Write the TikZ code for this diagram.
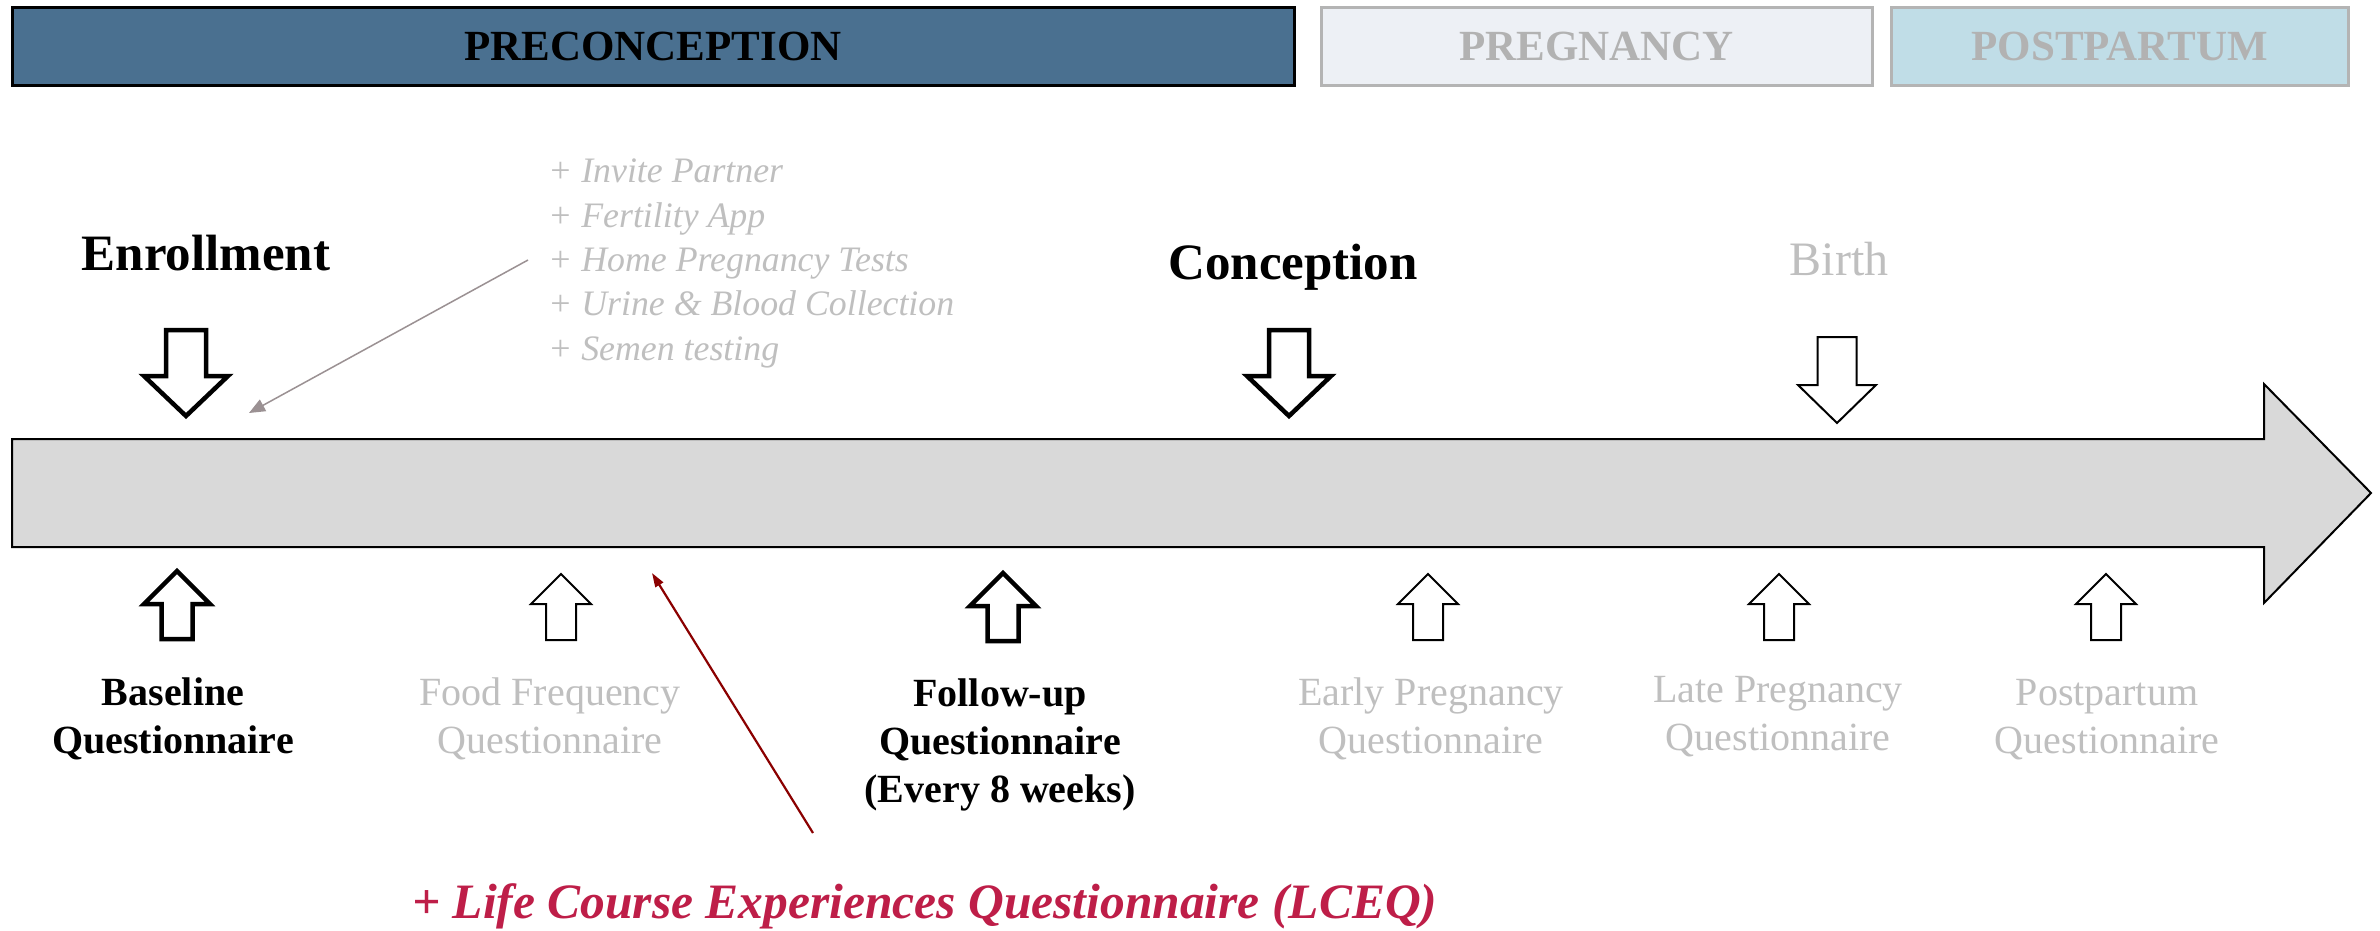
\documentclass[tikz,border=0pt]{standalone}
\usepackage{fontspec}
\setmainfont{Liberation Serif}
\usetikzlibrary{arrows.meta}
\definecolor{precol}{RGB}{74,112,144}
\definecolor{pregcol}{RGB}{237,240,245}
\definecolor{postcol}{RGB}{192,221,231}
\definecolor{boxgray}{RGB}{180,180,180}
\definecolor{softgray}{RGB}{191,191,191}
\definecolor{hdrgray}{RGB}{178,178,178}
\definecolor{bargray}{RGB}{217,217,217}
\definecolor{lceqred}{RGB}{190,30,72}
\definecolor{arrowred}{RGB}{139,0,0}
\definecolor{mauvegray}{RGB}{155,145,147}
\tikzset{
  phasebox/.style={rectangle, inner sep=0pt, line width=3pt, minimum height=78pt,
    font=\fontsize{43}{50}\selectfont\bfseries},
  eventlbl/.style={inner sep=0pt, anchor=base, font=\fontsize{51}{58}\selectfont\bfseries},
  eventsoft/.style={inner sep=0pt, anchor=base, text=softgray, font=\fontsize{48}{56}\selectfont},
  addlist/.style={inner sep=0pt, anchor=base west, align=left, text=softgray,
    font=\fontsize{35.8}{44.3}\selectfont\itshape},
  qbold/.style={inner sep=0pt, anchor=base, align=center,
    font=\fontsize{40}{48}\selectfont\bfseries},
  qsoft/.style={inner sep=0pt, anchor=base, align=center, text=softgray,
    font=\fontsize{40}{48}\selectfont},
  thickblk/.style={draw=black, fill=white, line width=4.5pt, line join=miter},
  thinblk/.style={draw=black, fill=white, line width=2pt, line join=miter},
  timebar/.style={draw=black, fill=bargray, line width=2pt, line join=miter},
  grayconn/.style={draw=mauvegray, line width=1.5pt, -{Triangle[length=16pt,width=13pt]}},
  redconn/.style={draw=arrowred, line width=2.2pt, -{Triangle[length=14pt,width=9pt]}},
  pics/dnarrow/.style n args={4}{code={
    \path[pic actions] ({-#2/2},0) -- ({#2/2},0) -- ({#2/2},{#3-#4}) -- ({#1/2},{#3-#4})
      -- (0,#3) -- ({-#1/2},{#3-#4}) -- ({-#2/2},{#3-#4}) -- cycle;}},
  pics/uparrow/.style n args={4}{code={
    \path[pic actions] (0,0) -- ({#1/2},#4) -- ({#2/2},#4) -- ({#2/2},#3)
      -- ({-#2/2},#3) -- ({-#2/2},#4) -- ({-#1/2},#4) -- cycle;}},
}
\begin{document}
\begin{tikzpicture}[x=1pt,y=-1pt]
\useasboundingbox[fill=white] (0,0) rectangle (2380,930);

% phase boxes
\node[phasebox, draw=black, fill=precol, minimum width=1282pt] (pre) at (653,46) {PRECONCEPTION};
\node[phasebox, draw=boxgray, fill=pregcol, text=hdrgray, minimum width=551pt] (preg) at (1596.5,46) {PREGNANCY};
\node[phasebox, draw=boxgray, fill=postcol, text=hdrgray, minimum width=457pt] (post) at (2119.5,46) {POSTPARTUM};

% timeline bar
\path[timebar] (12,439) -- (2264,439) -- (2264,384) -- (2371,493) -- (2264,603)
  -- (2264,547) -- (12,547) -- cycle;

% events above
\node[eventlbl] (enroll) at (206,270) {Enrollment};
\node[eventlbl] (concep) at (1293,279) {Conception};
\node[eventsoft] (birth) at (1839,275) {Birth};

\pic[thickblk] at (186,330) {dnarrow={84}{40}{86}{40}};
\pic[thickblk] at (1289,330) {dnarrow={84}{40}{86}{40}};
\pic[thinblk] at (1837,337) {dnarrow={78}{39}{86}{38}};

% additions list (base anchor = last line)
\node[addlist] (adds) at (548,360) {+ Invite Partner\\+ Fertility App\\+ Home Pregnancy Tests\\+ Urine \& Blood Collection\\+ Semen testing};
\coordinate (graystart) at (528,260);
\coordinate (graytip) at (249,413);
\draw[grayconn] (graystart) -- (graytip);

% questionnaire arrows
\pic[thickblk] at (177,571) {uparrow={66}{31}{68}{33}};
\pic[thinblk] at (561,574) {uparrow={60}{30}{66}{30}};
\pic[thickblk] at (1003,573) {uparrow={66}{31}{68}{33}};
\pic[thinblk] at (1428,574) {uparrow={60}{30}{66}{30}};
\pic[thinblk] at (1779,574) {uparrow={60}{30}{66}{30}};
\pic[thinblk] at (2106,574) {uparrow={60}{30}{66}{30}};

% questionnaire labels (base anchor = last line)
\node[qbold] (baseq) at (173,753) {Baseline\\Questionnaire};
\node[qsoft] (foodq) at (550,753) {Food Frequency\\Questionnaire};
\node[qbold] (follq) at (1000,802) {Follow-up\\Questionnaire\\(Every 8 weeks)};
\node[qsoft] (earlyq) at (1431,753) {Early Pregnancy\\Questionnaire};
\node[qsoft] (lateq) at (1778,750) {Late Pregnancy\\Questionnaire};
\node[qsoft] (postq) at (2107,753) {Postpartum\\Questionnaire};

% LCEQ
\node[inner sep=0pt, anchor=base west, text=lceqred, font=\fontsize{49.5}{56}\selectfont\bfseries\itshape] (lceq) at (412,918) {+ Life Course Experiences Questionnaire (LCEQ)};
\coordinate (redstart) at (813,833);
\coordinate (redtip) at (652,573);
\draw[redconn] (redstart) -- (redtip);
\end{tikzpicture}
\end{document}
